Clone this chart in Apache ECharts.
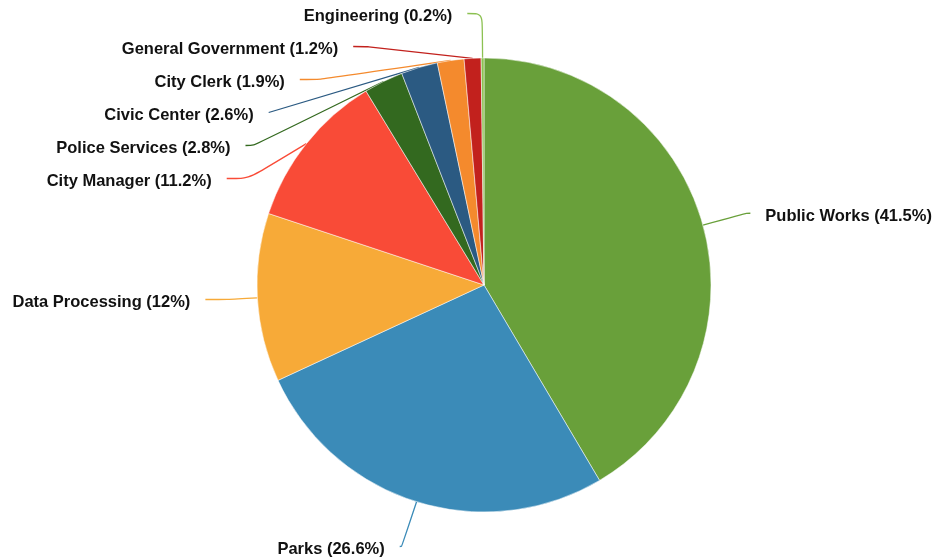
<!DOCTYPE html>
<html><head><meta charset="utf-8">
<script src="https://cdn.jsdelivr.net/npm/echarts@6/dist/echarts.min.js"></script>
<style>html,body{margin:0;padding:0;background:#fff}#c{width:936px;height:559px}</style>
</head><body><div id="c"></div>
<script>
const categories = ["Public Works","Parks","Data Processing","City Manager","Police Services","Civic Center","City Clerk","General Government","Engineering"];
const values = [41.5, 26.6, 12, 11.2, 2.8, 2.6, 1.9, 1.2, 0.2];
const colors = ["#69a03a","#3b8bb8","#f7aa38","#f94b37","#33691f","#2b5a82","#f48a2d","#c2211d","#8cc152"];
// per-slice label line styling (segment lengths)
const lineLen2 = [4, 2, 22, 22, 20, 20, 21, 15, 15];
const lineLen1 = [45, 50, 45, 45, 45, 45, 45, 45, 45];

const chart = echarts.init(document.getElementById('c'));
chart.setOption({
  animation: false,
  series: [{
    type: 'pie',
    center: [484, 285],
    radius: [0, 227],
    startAngle: 90,
    clockwise: true,
    avoidLabelOverlap: true,
    data: categories.map((n, i) => ({
      name: n, value: values[i],
      itemStyle: { color: colors[i] },
      label: i === 1 ? { lineHeight: 16 } : {},
      labelLine: { length: lineLen1[i], length2: lineLen2[i], lineStyle: { color: colors[i] } }
    })),
    itemStyle: { borderColor: '#fff', borderWidth: 0.5 },
    label: {
      formatter: p => p.name + ' (' + p.value + '%)',
      fontFamily: 'Liberation Sans, Arial, sans-serif',
      fontWeight: 'bold', fontSize: 16.5, color: '#111',
      lineHeight: 31,
      offset: [0, 3],
      overflow: 'none',
      edgeDistance: 0,
      distanceToLabelLine: 15
    },
    labelLine: { smooth: 0.3, lineStyle: { width: 1.3 } }
  }]
});
</script></body></html>
